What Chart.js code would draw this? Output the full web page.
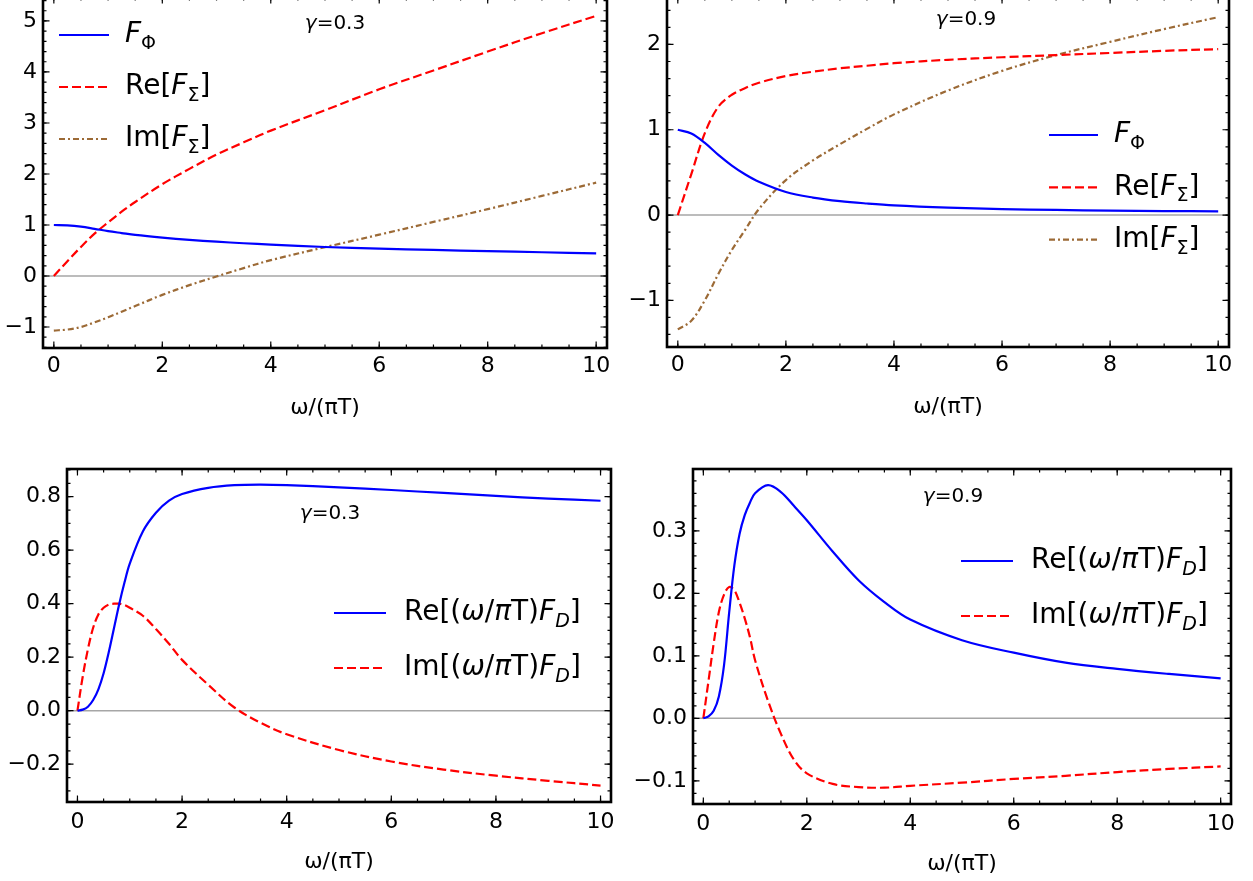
<!DOCTYPE html>
<html>
<head>
<meta charset="utf-8">
<script src="https://cdn.jsdelivr.net/npm/chart.js@4.4.1/dist/chart.umd.min.js"></script>
<style>
  body { margin: 0; background: #fff; width: 1253px; height: 881px; overflow: hidden; position: relative; }
  canvas { position: absolute; }
</style>
</head>
<body>
<canvas id="c1"></canvas>
<canvas id="c2"></canvas>
<canvas id="c3"></canvas>
<canvas id="c4"></canvas>
<script>
// ---- data ----
const omegaTop = [0, 0.25, 0.5, 0.75, 1, 1.25, 1.5, 2, 2.5, 3, 3.5, 4, 5, 6, 7, 8, 9, 10];

// gamma = 0.3, top
const phiG03     = [1.0, 0.993, 0.968, 0.925, 0.88, 0.842, 0.805, 0.752, 0.708, 0.672, 0.642, 0.615, 0.568, 0.535, 0.51, 0.488, 0.465, 0.445];
const reSigmaG03 = [0, 0.29, 0.57, 0.83, 1.05, 1.26, 1.45, 1.80, 2.10, 2.38, 2.62, 2.85, 3.25, 3.66, 4.03, 4.40, 4.76, 5.10];
const imSigmaG03 = [-1.07, -1.05, -1.0, -0.91, -0.81, -0.70, -0.59, -0.37, -0.18, -0.01, 0.155, 0.31, 0.565, 0.81, 1.06, 1.31, 1.57, 1.83];

// gamma = 0.9, top
const phiG09     = [1.0, 0.955, 0.845, 0.705, 0.58, 0.475, 0.39, 0.27, 0.205, 0.163, 0.135, 0.113, 0.087, 0.07, 0.06, 0.052, 0.047, 0.043];
const reSigmaG09 = [0, 0.48, 0.96, 1.27, 1.41, 1.49, 1.55, 1.63, 1.68, 1.72, 1.75, 1.78, 1.82, 1.85, 1.875, 1.90, 1.925, 1.945];
const imSigmaG09 = [-1.34, -1.24, -1.0, -0.69, -0.41, -0.17, 0.07, 0.41, 0.64, 0.83, 1.01, 1.18, 1.46, 1.69, 1.875, 2.03, 2.18, 2.32];

const omegaBot = [0, 0.1, 0.2, 0.3, 0.4, 0.5, 0.6, 0.7, 0.8, 0.9, 1, 1.25, 1.5, 1.75, 2, 2.5, 3, 3.5, 4, 5, 6, 7, 8, 9, 10];

// gamma = 0.3, bottom
const reDG03 = [0, 0.004, 0.015, 0.04, 0.08, 0.14, 0.22, 0.31, 0.40, 0.48, 0.55, 0.67, 0.74, 0.785, 0.81, 0.833, 0.843, 0.845, 0.843, 0.835, 0.825, 0.814, 0.803, 0.793, 0.785];
const imDG03 = [0, 0.127, 0.23, 0.31, 0.36, 0.385, 0.397, 0.40, 0.40, 0.395, 0.385, 0.355, 0.305, 0.25, 0.19, 0.097, 0.012, -0.045, -0.088, -0.147, -0.19, -0.22, -0.243, -0.262, -0.28];

// gamma = 0.9, bottom
const reDG09 = [0, 0.003, 0.012, 0.035, 0.085, 0.17, 0.245, 0.295, 0.325, 0.345, 0.36, 0.373, 0.362, 0.34, 0.317, 0.267, 0.221, 0.186, 0.158, 0.125, 0.105, 0.089, 0.079, 0.071, 0.064];
const imDG09 = [0, 0.06, 0.12, 0.17, 0.198, 0.21, 0.205, 0.185, 0.16, 0.13, 0.093, 0.028, -0.025, -0.066, -0.088, -0.105, -0.11, -0.111, -0.108, -0.103, -0.097, -0.092, -0.086, -0.081, -0.077];

// ticks
const xTicks = [0, 2, 4, 6, 8, 10];
const yTicksA = [-1, 0, 1, 2, 3, 4, 5];
const yTicksB = [-1, 0, 1, 2];
const yTicksC = [-0.2, 0, 0.2, 0.4, 0.6, 0.8];
const yTicksD = [-0.1, 0, 0.1, 0.2, 0.3];

// text
const xTitle = 'ω/(πT)';
const gammaValues = ['0.3', '0.9'];
const nameFPhi = [['F', 'i'], ['Φ', 's']];
const nameReSigma = [['Re[', 'n'], ['F', 'i'], ['Σ', 's'], [']', 'n']];
const nameImSigma = [['Im[', 'n'], ['F', 'i'], ['Σ', 's'], [']', 'n']];
const nameReD = [['Re[(', 'n'], ['ω', 'i'], ['/', 'n'], ['π', 'i'], ['T)', 'n'], ['F', 'i'], ['D', 'is'], [']', 'n']];
const nameImD = [['Im[(', 'n'], ['ω', 'i'], ['/', 'n'], ['π', 'i'], ['T)', 'n'], ['F', 'i'], ['D', 'is'], [']', 'n']];

// ---- styles / layout ----
const FONT = "'DejaVu Sans', sans-serif";
const Y_W = 80, X_H = 73, PAD_T = 10, PAD_R = 12;
const BLUE = { color: '#0000ff', dash: [] };
const RED = { color: '#ff0000', dash: [9, 4] };
const BROWN = { color: '#9c6a36', dash: [6, 3, 2, 3] };

const panels = [
  { id: 'c1', frame: [43, -3, 607, 348], yRange: [-1.412, 5.47], yTicks: yTicksA, yMinor: 0.2, dec: 0, labelPad: 5,
    series: [[omegaTop, phiG03, nameFPhi, BLUE], [omegaTop, reSigmaG03, nameReSigma, RED], [omegaTop, imSigmaG03, nameImSigma, BROWN]],
    legend: { x: 59, y: 35, dy: 52, len: 50, gap: 16 }, note: { x: 335, y: 24, g: gammaValues[0] } },
  { id: 'c2', frame: [667, -3, 1229, 347], yRange: [-1.547, 2.556], yTicks: yTicksB, yMinor: 0.2, dec: 0, labelPad: 5,
    series: [[omegaTop, phiG09, nameFPhi, BLUE], [omegaTop, reSigmaG09, nameReSigma, RED], [omegaTop, imSigmaG09, nameImSigma, BROWN]],
    legend: { x: 1049, y: 135, dy: 52.3, len: 49, gap: 16 }, note: { x: 966, y: 20, g: gammaValues[1] } },
  { id: 'c3', frame: [67, 469, 611, 802], yRange: [-0.3413, 0.9036], yTicks: yTicksC, yMinor: 0.05, dec: 1, labelPad: 7,
    series: [[omegaBot, reDG03, nameReD, BLUE], [omegaBot, imDG03, nameImD, RED]],
    legend: { x: 334, y: 613, dy: 55, len: 52, gap: 18 }, note: { x: 330, y: 514, g: gammaValues[0] } },
  { id: 'c4', frame: [693, 469, 1231, 804], yRange: [-0.1371, 0.3989], yTicks: yTicksD, yMinor: 0.02, dec: 1, labelPad: 7,
    series: [[omegaBot, reDG09, nameReD, BLUE], [omegaBot, imDG09, nameImD, RED]],
    legend: { x: 961, y: 561, dy: 55, len: 52, gap: 18 }, note: { x: 953, y: 497, g: gammaValues[1] } },
];

function fmt(v, dec) {
  return v.toFixed(dec).replace('-', '\u2212');
}

// draws a label made of [text, style] pieces; style: n normal, i italic, s subscript
function drawRich(ctx, segs, x, y, size, align) {
  const parts = segs.map(([t, st]) => {
    const sub = st.includes('s');
    ctx.font = (st.includes('i') ? 'italic ' : '') + (sub ? size * 0.68 : size) + 'px ' + FONT;
    return { t, sub, font: ctx.font, w: ctx.measureText(t).width };
  });
  const total = parts.reduce((a, p) => a + p.w, 0);
  let cx = align === 'center' ? x - total / 2 : x;
  ctx.textAlign = 'left';
  ctx.textBaseline = 'middle';
  ctx.fillStyle = '#000';
  for (const p of parts) {
    ctx.font = p.font;
    ctx.fillText(p.t, cx, y + (p.sub ? size * 0.33 : 0));
    cx += p.w;
  }
}

const framePlugin = {
  id: 'frame',
  beforeDatasetsDraw(chart) {
    const { ctx, chartArea: a, scales: { y } } = chart;
    const py = y.getPixelForValue(0);
    ctx.save();
    ctx.strokeStyle = '#a6a6a6';
    ctx.lineWidth = 1.5;
    ctx.beginPath();
    ctx.moveTo(a.left, py);
    ctx.lineTo(a.right, py);
    ctx.stroke();
    ctx.restore();
  },
  afterDatasetsDraw(chart, args, opts) {
    const { ctx, chartArea: a, scales: { x, y } } = chart;
    ctx.save();
    ctx.strokeStyle = '#000';
    ctx.lineWidth = 1.2;
    const tick = (scale, v, len) => {
      const p = scale.getPixelForValue(v);
      ctx.beginPath();
      if (scale.axis === 'x') {
        ctx.moveTo(p, a.bottom); ctx.lineTo(p, a.bottom - len);
        ctx.moveTo(p, a.top); ctx.lineTo(p, a.top + len);
      } else {
        ctx.moveTo(a.left, p); ctx.lineTo(a.left + len, p);
        ctx.moveTo(a.right, p); ctx.lineTo(a.right - len, p);
      }
      ctx.stroke();
    };
    const minors = (scale, step) => {
      const out = [];
      for (let k = Math.ceil(scale.min / step); k * step <= scale.max; k++) out.push(k * step);
      return out;
    };
    minors(x, 0.5).forEach(v => tick(x, v, 3.5));
    minors(y, opts.yMinor).forEach(v => tick(y, v, 3.5));
    xTicks.forEach(v => tick(x, v, 6.5));
    opts.yTicks.forEach(v => tick(y, v, 6.5));
    ctx.lineWidth = 2.6;
    ctx.strokeRect(a.left, a.top, a.right - a.left, a.bottom - a.top);
    ctx.restore();
  },
  afterDraw(chart, args, opts) {
    const { ctx } = chart;
    const [ox, oy] = opts.origin;
    const lg = opts.legend;
    ctx.save();
    chart.data.datasets.forEach((ds, i) => {
      const yy = lg.y + i * lg.dy - oy;
      ctx.strokeStyle = ds.borderColor;
      ctx.lineWidth = 2.2;
      ctx.setLineDash(ds.borderDash);
      ctx.beginPath();
      ctx.moveTo(lg.x - ox, yy);
      ctx.lineTo(lg.x + lg.len - ox, yy);
      ctx.stroke();
      ctx.setLineDash([]);
      drawRich(ctx, ds.richLabel, lg.x + lg.len + lg.gap - ox, yy, 28, 'left');
    });
    const n = opts.note;
    drawRich(ctx, [['γ', 'i'], ['=' + n.g, 'n']], n.x - ox, n.y - oy, 20, 'center');
    ctx.restore();
  }
};

panels.forEach(p => {
  const [l, t, r, b] = p.frame;
  const cv = document.getElementById(p.id);
  const left = l - Y_W, top = t - PAD_T;
  cv.width = (r - l) + Y_W + PAD_R;
  cv.height = (b - t) + PAD_T + X_H;
  cv.style.left = left + 'px';
  cv.style.top = top + 'px';

  new Chart(cv, {
    type: 'line',
    data: {
      datasets: p.series.map(([xs, ys, name, st]) => ({
        data: xs.map((xv, i) => ({ x: xv, y: ys[i] })),
        richLabel: name,
        borderColor: st.color,
        borderDash: st.dash,
        borderWidth: 2.2,
        pointRadius: 0,
        fill: false,
        tension: 0.35,
      })),
    },
    options: {
      responsive: false,
      animation: false,
      devicePixelRatio: 1,
      layout: { padding: { top: PAD_T, right: PAD_R, left: 0, bottom: 0 } },
      plugins: {
        legend: { display: false },
        tooltip: { enabled: false },
        frame: { yTicks: p.yTicks, yMinor: p.yMinor, legend: p.legend, note: p.note, origin: [left, top] },
      },
      scales: {
        x: {
          type: 'linear',
          min: -0.2,
          max: 10.2,
          grid: { display: false, drawTicks: false },
          border: { display: false },
          afterBuildTicks: s => { s.ticks = xTicks.map(v => ({ value: v })); },
          afterFit: s => { s.height = X_H; s.paddingLeft = 0; s.paddingRight = 0; },
          ticks: {
            autoSkip: false, maxRotation: 0, padding: p.labelPad, color: '#000',
            font: { family: FONT, size: 22 },
            callback: v => fmt(v, 0),
          },
          title: { display: true, text: xTitle, color: '#000', padding: 0, font: { family: FONT, size: 22 } },
        },
        y: {
          type: 'linear',
          min: p.yRange[0],
          max: p.yRange[1],
          grid: { display: false, drawTicks: false },
          border: { display: false },
          afterBuildTicks: s => { s.ticks = p.yTicks.map(v => ({ value: v })); },
          afterFit: s => { s.width = Y_W; s.paddingTop = 0; s.paddingBottom = 0; },
          ticks: {
            autoSkip: false, padding: 6, color: '#000',
            font: { family: FONT, size: 22 },
            callback: v => fmt(v, p.dec),
          },
        },
      },
    },
    plugins: [framePlugin],
  });
});
</script>
</body>
</html>
